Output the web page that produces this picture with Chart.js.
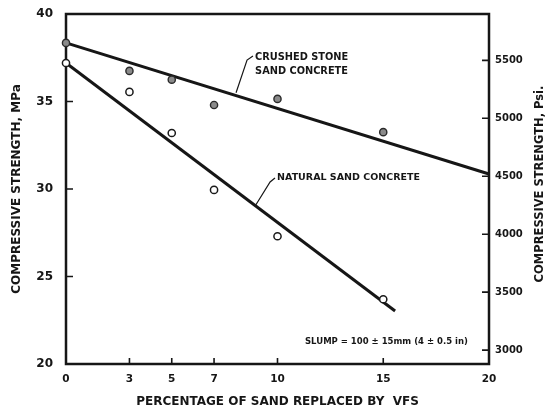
<!DOCTYPE html>
<html><head><meta charset="utf-8">
<script src="https://cdn.jsdelivr.net/npm/chart.js@4.4.1/dist/chart.umd.min.js"></script>
<style>html,body{margin:0;padding:0;background:#fff;} canvas{display:block;}</style>
</head><body>
<canvas id="c" width="555" height="412"></canvas>
<script>
// ---- data ----
const xTicks = [0, 3, 5, 7, 10, 15, 20];
const yTicksMPa = [20, 25, 30, 35, 40];
const yTicksPsi = [3000, 3500, 4000, 4500, 5000, 5500];
const pctX = [0, 3, 5, 7, 10, 15];
const crushedStone = [38.35, 36.75, 36.25, 34.8, 35.15, 33.25];
const naturalSand = [37.2, 35.55, 33.2, 29.95, 27.3, 23.7];
const crushedFitX = [0, 20];
const crushedFitY = [38.35, 30.86];
const naturalFitX = [0, 15.56];
const naturalFitY = [37.2, 23.03];

const pts = (xs, ys) => xs.map((x, i) => ({x, y: ys[i]}));
const FONT = '"DejaVu Sans", "Liberation Sans", sans-serif';
const INK = '#161616';

// annotations (anchors in data units)
const notes = [
  {lines: ['CRUSHED STONE', 'SAND CONCRETE'], x: 8.94, y: 37.49, dy: 14, size: 9.8,
   leader: [[8.84, 37.6], [8.56, 37.37], [8.04, 35.5]]},
  {lines: ['NATURAL SAND CONCRETE'], x: 9.98, y: 30.63, dy: 14, size: 9.5,
   leader: [[9.88, 30.63], [9.65, 30.4], [8.98, 29.1]]}
];
const slumpNote = {text: 'SLUMP = 100 ± 15mm (4 ± 0.5 in)', x: 19.0, y: 21.26};

const framePlugin = {
  id: 'frame',
  beforeDatasetsDraw(chart) {
    const {ctx, chartArea: a, scales} = chart;
    ctx.save();
    ctx.strokeStyle = INK;
    ctx.lineWidth = 2.5;
    ctx.strokeRect(a.left, a.top, a.right - a.left, a.bottom - a.top);
    ctx.lineWidth = 1.6;
    ctx.beginPath();
    yTicksMPa.forEach(v => {
      if (v === 20 || v === 40) return;
      const y = scales.y.getPixelForValue(v);
      ctx.moveTo(a.left, y); ctx.lineTo(a.left + 7, y);
    });
    xTicks.forEach(v => {
      if (v === 0 || v === 20) return;
      const x = scales.x.getPixelForValue(v);
      ctx.moveTo(x, a.bottom); ctx.lineTo(x, a.bottom - 6);
    });
    yTicksPsi.forEach(v => {
      const y = scales.y1.getPixelForValue(v);
      ctx.moveTo(a.right, y); ctx.lineTo(a.right - 7, y);
    });
    ctx.stroke();
    ctx.restore();
  },
  afterDatasetsDraw(chart) {
    const {ctx, scales} = chart;
    const X = v => scales.x.getPixelForValue(v);
    const Y = v => scales.y.getPixelForValue(v);
    ctx.save();
    ctx.fillStyle = INK;
    ctx.strokeStyle = INK;
    ctx.textBaseline = 'middle';
    ctx.textAlign = 'left';
    notes.forEach(n => {
      ctx.font = 'bold ' + n.size + 'px ' + FONT;
      n.lines.forEach((t, i) => ctx.fillText(t, X(n.x), Y(n.y) + i * n.dy));
      ctx.lineWidth = 1.2;
      ctx.beginPath();
      n.leader.forEach((p, i) => i ? ctx.lineTo(X(p[0]), Y(p[1])) : ctx.moveTo(X(p[0]), Y(p[1])));
      ctx.stroke();
    });
    ctx.textAlign = 'right';
    ctx.font = 'bold 8.5px ' + FONT;
    ctx.fillText(slumpNote.text, X(slumpNote.x), Y(slumpNote.y));
    // right axis title (reads bottom-to-top like the left one)
    const a = chart.chartArea;
    ctx.save();
    ctx.translate(540, (a.top + a.bottom) / 2 - 5);
    ctx.rotate(-Math.PI / 2);
    ctx.textAlign = 'center';
    ctx.font = 'bold 11.5px ' + FONT;
    ctx.fillText('COMPRESSIVE STRENGTH, Psi.', 0, 0);
    ctx.restore();
    ctx.restore();
  }
};

const fitV = w => s => { s.width = w; s.paddingTop = 0; s.paddingBottom = 0; };

new Chart(document.getElementById('c'), {
  type: 'scatter',
  data: {
    datasets: [
      {label: 'Crushed stone sand concrete', data: pts(pctX, crushedStone), clip: false,
       pointRadius: 3.6, pointBackgroundColor: '#8a8a8a', pointBorderColor: '#2a2a2a', pointBorderWidth: 1.4, showLine: false},
      {label: 'Natural sand concrete', data: pts(pctX, naturalSand), clip: false,
       pointRadius: 3.6, pointBackgroundColor: '#ffffff', pointBorderColor: '#1a1a1a', pointBorderWidth: 1.5, showLine: false},
      {label: 'Crushed fit', data: pts(crushedFitX, crushedFitY), showLine: true, clip: false,
       pointRadius: 0, borderColor: INK, borderWidth: 3},
      {label: 'Natural fit', data: pts(naturalFitX, naturalFitY), showLine: true, clip: false,
       pointRadius: 0, borderColor: INK, borderWidth: 3}
    ]
  },
  options: {
    responsive: false,
    animation: false,
    devicePixelRatio: 1,
    layout: {padding: {top: 14, left: 0, right: 0, bottom: 0}},
    plugins: {legend: {display: false}, tooltip: {enabled: false}},
    scales: {
      x: {
        type: 'linear', min: 0, max: 20, position: 'bottom',
        afterBuildTicks: s => { s.ticks = xTicks.map(v => ({value: v})); },
        afterFit: s => { s.height = 48; s.paddingLeft = 0; s.paddingRight = 0; },
        grid: {display: false, drawTicks: false},
        border: {display: false},
        ticks: {padding: 9, color: INK, font: {family: FONT, size: 10.5, weight: 'bold'}, maxRotation: 0, autoSkip: false},
        title: {display: true, text: 'PERCENTAGE OF SAND REPLACED BY  VFS', color: INK,
                font: {family: FONT, size: 12, weight: 'bold'}, padding: {top: 0, bottom: 3}}
      },
      y: {
        type: 'linear', min: 20, max: 40, position: 'left',
        afterBuildTicks: s => { s.ticks = yTicksMPa.map(v => ({value: v})); },
        afterFit: fitV(66),
        grid: {display: false, drawTicks: false},
        border: {display: false},
        ticks: {padding: 13, color: INK, font: {family: FONT, size: 12, weight: 'bold'}},
        title: {display: true, text: 'COMPRESSIVE STRENGTH, MPa', color: INK,
                font: {family: FONT, size: 12, weight: 'bold'}, padding: {top: 10, bottom: 0}}
      },
      y1: {
        type: 'linear', min: 2880, max: 5900, position: 'right',
        afterBuildTicks: s => { s.ticks = yTicksPsi.map(v => ({value: v})); },
        afterFit: fitV(66),
        grid: {display: false, drawTicks: false},
        border: {display: false},
        ticks: {padding: 6, color: INK, font: {family: FONT, size: 10, weight: 'bold'},
                callback: v => String(v)}
      }
    }
  },
  plugins: [framePlugin]
});
</script>
</body></html>
